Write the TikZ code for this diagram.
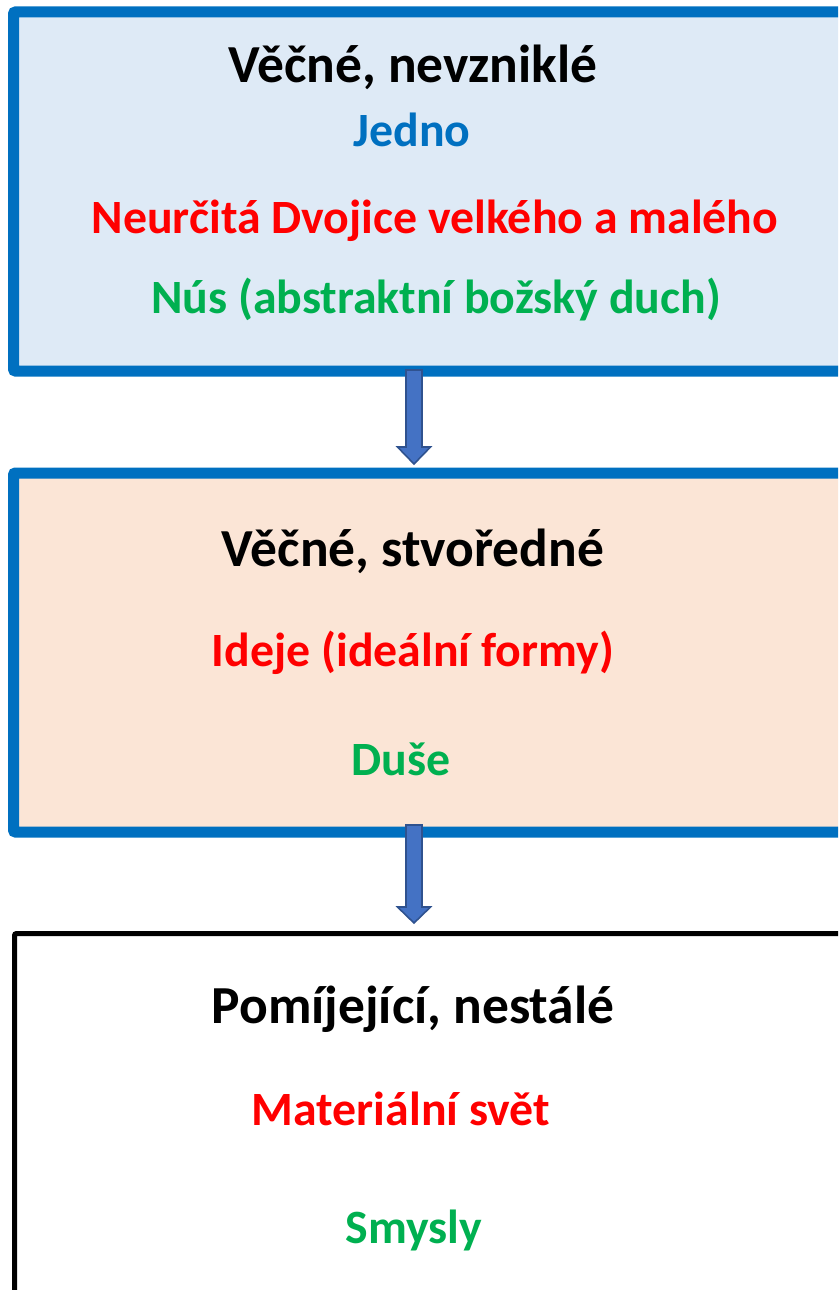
\documentclass[tikz,border=0pt]{standalone}
\usepackage{fontspec}
\setmainfont{Carlito}
\usetikzlibrary{calc}
\definecolor{levelblue}{HTML}{0070C0}
\definecolor{levelbluefill}{HTML}{DEEAF6}
\definecolor{levelpeach}{HTML}{FBE5D6}
\definecolor{arrowfill}{HTML}{4472C4}
\definecolor{arrowedge}{HTML}{2F528F}
\definecolor{txtblue}{HTML}{0070C0}
\definecolor{txtred}{HTML}{FF0000}
\definecolor{txtgreen}{HTML}{00B050}

\begin{document}
\begin{tikzpicture}[
    x=1pt, y=-1pt,
    % --- Box styles ---
    level/.style={
      rectangle, anchor=north west, outer sep=0pt, inner sep=0pt,
      minimum width=900pt, minimum height=359pt, rounded corners=2pt,
    },
    eternalbox/.style={level, draw=levelblue, line width=11pt, fill=levelbluefill},
    formbox/.style={level, draw=levelblue, line width=11pt, fill=levelpeach},
    matterbox/.style={level, draw=black, line width=5pt, fill=white, minimum height=500pt},
    % --- Arrow style ---
    blockarrow/.style={fill=arrowfill, draw=arrowedge, line width=1.6pt, line join=miter},
    % --- Text styles ---
    heading/.style={font=\fontsize{53.5}{64}\selectfont\bfseries, anchor=base, text=black},
    entry/.style={font=\fontsize{47.8}{57}\selectfont\bfseries, anchor=base},
  ]

    \useasboundingbox (0,0) rectangle (838,1290);
    \clip (0,0) rectangle (838,1290);

    % ===================== LEVEL BOXES =====================
    \node[eternalbox] (box1) at (13.5,12)    {};
    \node[formbox]    (box2) at (13.5,473)   {};
    \node[matterbox]  (box3) at (14.5,933.5) {};

    % ===================== ARROWS =====================
    \coordinate (axis) at (414,0);

    \coordinate (a1top) at (box1.south -| axis);
    \coordinate (a1tip) at ($(box2.north -| axis)+(0,-9)$);
    \draw[blockarrow] ($(a1top)+(-8,-1)$) -- ($(a1tip)+(-8,-17)$)
      -- ($(a1tip)+(-16.5,-17)$) -- (a1tip) -- ($(a1tip)+(16.5,-17)$)
      -- ($(a1tip)+(8,-17)$) -- ($(a1top)+(8,-1)$) -- cycle;

    \coordinate (a2top) at (box2.south -| axis);
    \coordinate (a2tip) at ($(box3.north -| axis)+(0,-10.5)$);
    \draw[blockarrow] ($(a2top)+(-8,-7)$) -- ($(a2tip)+(-8,-16)$)
      -- ($(a2tip)+(-16.5,-16)$) -- (a2tip) -- ($(a2tip)+(16.5,-16)$)
      -- ($(a2tip)+(8,-16)$) -- ($(a2top)+(8,-7)$) -- cycle;

    % ===================== TEXT: ETERNAL, UNCREATED =====================
    \node[heading] (t1)  at (413,82.7)  {Věčné, nevzniklé};
    \node[entry, text=txtblue]  (one)   at (412,146.7) {Jedno};
    \node[entry, text=txtred]   (dyad)  at (435,233.3) {Neurčitá Dvojice velkého a malého};
    \node[entry, text=txtgreen] (nous)  at (436,313.3) {Nús (abstraktní božský duch)};

    % ===================== TEXT: ETERNAL, CREATIVE =====================
    \node[heading] (t2)  at (413,566.7) {Věčné, stvoředné};
    \node[entry, text=txtred]   (ideas) at (413,666.7) {Ideje (ideální formy)};
    \node[entry, text=txtgreen] (soul)  at (401,775)   {Duše};

    % ===================== TEXT: TRANSIENT =====================
    \node[heading] (t3)  at (413,1023.3) {Pomíjející, nestálé};
    \node[entry, text=txtred]   (matter) at (401,1125) {Materiální svět};
    \node[entry, text=txtgreen] (senses) at (414,1243) {Smysly};

  \end{tikzpicture}
\end{document}
